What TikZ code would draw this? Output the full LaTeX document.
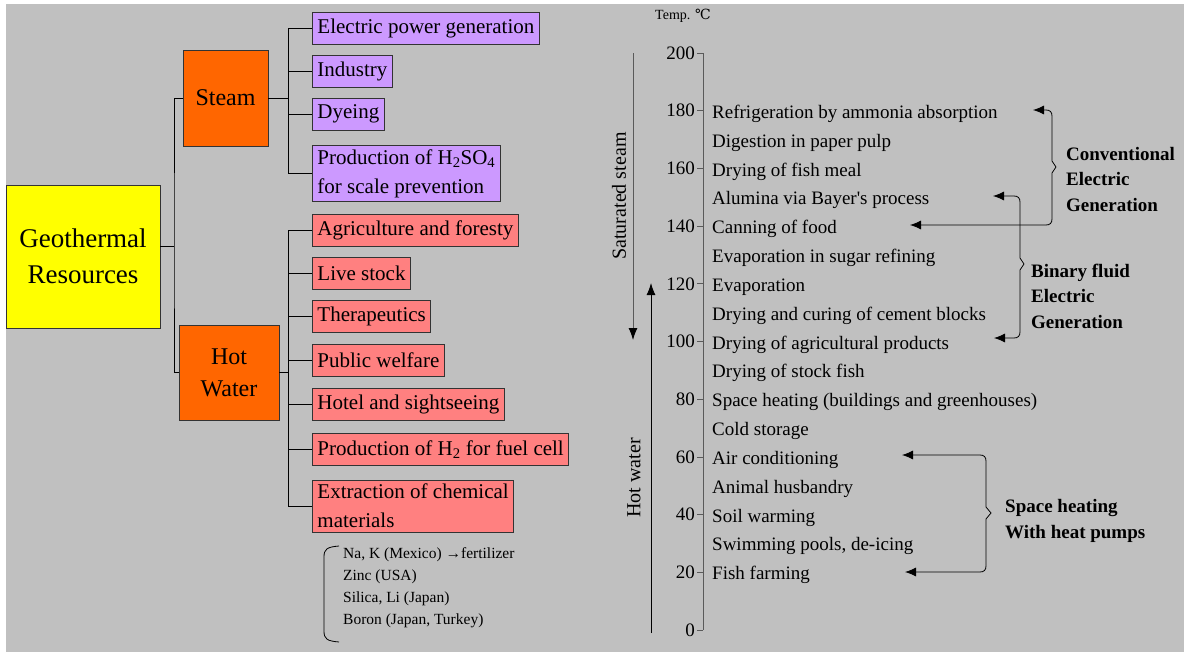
\documentclass[tikz,border=0pt]{standalone}
\usepackage{fontspec}
\setmainfont{Liberation Serif}[Ligatures=TeXOff]
\newfontfamily\symfont{DejaVu Serif}
\usetikzlibrary{arrows.meta}
\definecolor{bggray}{HTML}{C0C0C0}
\definecolor{geoyellow}{HTML}{FFFF00}
\definecolor{mainorange}{HTML}{FF6600}
\definecolor{steamviolet}{HTML}{CC99FF}
\definecolor{waterpink}{HTML}{FF8080}
\definecolor{axisgray}{HTML}{5A5A5A}

\begin{document}
\begin{tikzpicture}[x=1pt,y=-1pt,
    every node/.style={inner sep=0pt},
    rootbox/.style={draw=black!80,line width=0.9pt,fill=geoyellow,minimum width=154pt,minimum height=143pt,align=center,font=\fontsize{27}{36}\selectfont},
    kindbox/.style={draw=black!80,line width=0.9pt,fill=mainorange,align=center,font=\fontsize{24}{32}\selectfont},
    usebox/.style={draw=black!80,line width=0.9pt,anchor=west,align=left,inner xsep=5pt,inner ysep=4pt,minimum height=32pt,font=\fontsize{21}{29}\selectfont},
    steamuse/.style={usebox,fill=steamviolet},
    wateruse/.style={usebox,fill=waterpink},
    link/.style={line width=0.8pt},
    apptext/.style={anchor=west,font=\fontsize{19}{23}\selectfont},
    ticklabel/.style={anchor=east,font=\fontsize{19}{23}\selectfont},
    grouplabel/.style={anchor=west,align=left,font=\fontsize{19}{25.5}\selectfont\bfseries},
    bracearrow/.style={line width=0.8pt,{Latex[length=11pt,width=9pt]}-{Latex[length=11pt,width=9pt]}},
    flowarrow/.style={line width=0.9pt,-{Latex[length=12pt,width=9pt,color=black]}}]
    \useasboundingbox (0,0) rectangle (1184,653);
    \fill[bggray] (6,4) rectangle (1184,652);

    % Resource tree
    \node[rootbox] (geo) at (83,256.5) {Geothermal\\Resources};
    \node[kindbox,minimum width=85pt,minimum height=96pt] (steam) at (225.5,98) {Steam};
    \node[kindbox,minimum width=100pt,minimum height=95pt] (hotw) at (229,372.5) {Hot\\Water};

    \node[steamuse] (elec) at (312,28) {Electric power generation};
    \node[steamuse] (indus) at (312,71) {Industry};
    \node[steamuse] (dye) at (312,114) {Dyeing};
    \node[steamuse] (hso) at (312,173.5) {Production of H\textsubscript{2}SO\textsubscript{4}\\for scale prevention};
    \node[wateruse] (agri) at (312,230) {Agriculture and foresty};
    \node[wateruse] (live) at (312,273) {Live stock};
    \node[wateruse] (thera) at (312,316.5) {Therapeutics};
    \node[wateruse] (pub) at (312,360.5) {Public welfare};
    \node[wateruse] (hotel) at (312,404) {Hotel and sightseeing};
    \node[wateruse] (htwo) at (312,449.5) {Production of H\textsubscript{2} for fuel cell};
    \node[wateruse] (extr) at (312,506) {Extraction of chemical\\materials};

    \coordinate (trunk) at (174,246);
    \draw[link] (trunk) -- (trunk -| geo.east);
    \draw[link] (steam.west) -| (trunk) |- (hotw.west);
    \coordinate (sbus) at (288,98);
    \draw[link] (steam.east) -- (sbus);
    \foreach \u in {elec,indus,dye,hso}
        \draw[link] (sbus) |- (\u.west);
    \coordinate (wbus) at (288,372.5);
    \draw[link] (hotw.east) -- (wbus);
    \foreach \u in {agri,live,thera,pub,hotel,htwo,extr}
        \draw[link] (wbus) |- (\u.west);

    % Extracted elements
    \node[anchor=west,align=left,font=\fontsize{15.5}{22}\selectfont] (note) at (343,588) {Na, K (Mexico) →fertilizer\\Zinc (USA)\\Silica, Li (Japan)\\Boron (Japan, Turkey)};
    \draw[link] (339,546) .. controls (327,547) and (324,549) .. (324,557) -- (324,631) .. controls (324,639) and (327,641) .. (339,642);

    % Temperature scale
    \node[anchor=west,font=\fontsize{14}{16}\selectfont] (unit) at (655,16) {Temp. {\symfont ℃}};
    \coordinate (axtop) at (703,53);
    \coordinate (axbot) at (703,630);
    \draw[axisgray,line width=1pt] (axtop) -- (axbot);
    \foreach \t in {0,20,...,200} {
        \draw[axisgray,line width=0.8pt] (697,{630-2.885*\t}) -- (703,{630-2.885*\t});
        \node[ticklabel] (t\t) at (695,{630-2.885*\t}) {\t};
    }
    \foreach \t/\txt in {180/Refrigeration by ammonia absorption,170/Digestion in paper pulp,
        160/Drying of fish meal,150/Alumina via Bayer's process,140/Canning of food,
        130/Evaporation in sugar refining,120/Evaporation,110/Drying and curing of cement blocks,
        100/Drying of agricultural products,90/Drying of stock fish,
        80/Space heating (buildings and greenhouses),70/Cold storage,60/Air conditioning,
        50/Animal husbandry,40/Soil warming,30/{Swimming pools, de-icing},20/Fish farming}
        \node[apptext] (a\t) at (712,{633-2.885*\t}) {\txt};

    % Steam and hot water ranges
    \coordinate (sstop) at (633,53);
    \coordinate (ssbot) at (633,340);
    \draw[flowarrow,axisgray] (sstop) -- (ssbot);
    \node[rotate=90,font=\fontsize{20}{24}\selectfont] (sslabel) at (619,196) {Saturated steam};
    \coordinate (hwbot) at (651,633);
    \coordinate (hwtop) at (651,283);
    \draw[flowarrow] (hwbot) -- (hwtop);
    \node[rotate=90,font=\fontsize{20}{24}\selectfont] (hwlabel) at (634,478) {Hot water};

    % Generation ranges
    \coordinate (cvhi) at (1033,110);
    \coordinate (cvlo) at (910,225);
    \draw[bracearrow] (cvhi) -- (1046,110) .. controls (1050,110) and (1052,112) .. (1052,116) -- (1052,161) -- (1056,167) -- (1052,173) -- (1052,219) .. controls (1052,223) and (1050,225) .. (1046,225) -- (cvlo);
    \node[grouplabel] (conv) at (1066,179) {Conventional\\Electric\\Generation};

    \coordinate (bfhi) at (993,196);
    \coordinate (bflo) at (994,338);
    \draw[bracearrow] (bfhi) -- (1014,196) .. controls (1018,196) and (1020,198) .. (1020,202) -- (1020,258) -- (1024,264) -- (1020,270) -- (1020,332) .. controls (1020,336) and (1018,338) .. (1014,338) -- (bflo);
    \node[grouplabel] (binary) at (1031,296) {Binary fluid\\Electric\\Generation};

    \coordinate (shhi) at (902,455);
    \coordinate (shlo) at (905,572);
    \draw[bracearrow] (shhi) -- (980,455) .. controls (984,455) and (986,457) .. (986,461) -- (986,507) -- (991,513) -- (986,519) -- (986,566) .. controls (986,570) and (984,572) .. (980,572) -- (shlo);
    \node[grouplabel] (heatpump) at (1005,521) {Space heating\\With heat pumps};
\end{tikzpicture}
\end{document}
